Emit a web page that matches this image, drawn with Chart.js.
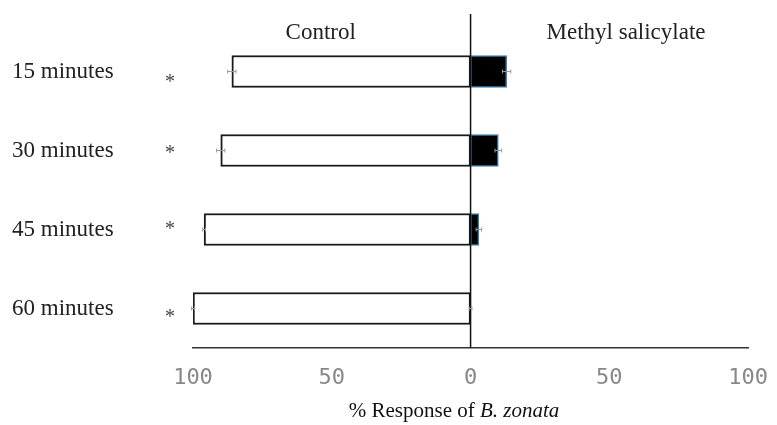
<!DOCTYPE html>
<html>
<head>
<meta charset="utf-8">
<script src="https://cdn.jsdelivr.net/npm/chart.js@4"></script>
<style>
  html, body { margin: 0; padding: 0; background: #fff; }
  #wrap { width: 777px; height: 425px; }
</style>
</head>
<body>
<div id="wrap"><canvas id="grafica"></canvas></div>
<script>
// datos
var categorias = ['15 minutes', '30 minutes', '45 minutes', '60 minutes'];
var control = [86, 90, 96, 100];
var controlErr = [1.5, 1.5, 0.5, 0.5];
var metilo = [13, 10, 3, 0];
var metiloErr = [1.5, 1.2, 1, 0.5];
var significancia = ['*', '*', '*', '*'];
var ticksX = [-100, -50, 0, 50, 100];

var serif = '"Liberation Serif", "Times New Roman", serif';
var desfaseAst = [8, 0, -3, 6]; // posicion vertical de los asteriscos

var extras = {
    id: 'extras',
    afterDatasetsDraw: function(chart){
        var ctx = chart.ctx;
        var x = chart.scales.x, y = chart.scales.y;
        var x0 = x.getPixelForValue(0);
        ctx.save();
        // linea del cero
        ctx.strokeStyle = '#111';
        ctx.lineWidth = 1.5;
        ctx.beginPath();
        ctx.moveTo(x0, 14);
        ctx.lineTo(x0, chart.chartArea.bottom);
        ctx.stroke();
        // barras de error
        ctx.strokeStyle = '#999';
        ctx.lineWidth = 1;
        categorias.forEach(function(c, i){
            var yc = y.getPixelForValue(i);
            [[-control[i], controlErr[i]], [metilo[i], metiloErr[i]]].forEach(function(p){
                var a = x.getPixelForValue(p[0] - p[1]);
                var b = x.getPixelForValue(p[0] + p[1]);
                ctx.beginPath();
                ctx.moveTo(a, yc); ctx.lineTo(b, yc);
                ctx.moveTo(a, yc - 2); ctx.lineTo(a, yc + 2);
                ctx.moveTo(b, yc - 2); ctx.lineTo(b, yc + 2);
                ctx.stroke();
            });
            // asterisco
            ctx.fillStyle = '#444';
            ctx.font = '20px ' + serif;
            ctx.textAlign = 'center';
            ctx.textBaseline = 'middle';
            ctx.fillText(significancia[i], 170, yc + desfaseAst[i] + 3);
        });
        // titulos de los lados
        ctx.fillStyle = '#222';
        ctx.font = '23px ' + serif;
        ctx.textAlign = 'center';
        ctx.textBaseline = 'middle';
        ctx.fillText('Control', x.getPixelForValue(-54), 33);
        ctx.fillText('Methyl salicylate', x.getPixelForValue(56), 33);
        // titulo del eje x
        var t1 = '% Response of ', t2 = 'B. zonata';
        ctx.font = '21px ' + serif;
        var w1 = ctx.measureText(t1).width;
        ctx.font = 'italic 21px ' + serif;
        var w2 = ctx.measureText(t2).width;
        var sx = 454 - (w1 + w2) / 2;
        ctx.textAlign = 'left';
        ctx.fillStyle = '#111';
        ctx.font = '21px ' + serif;
        ctx.fillText(t1, sx, 411);
        ctx.font = 'italic 21px ' + serif;
        ctx.fillText(t2, sx + w1, 411);
        ctx.restore();
    }
};

var ctx = document.getElementById('grafica').getContext('2d');
var chart = new Chart(ctx, {
    type: 'bar',
    data: {
        labels: categorias,
        datasets: [{
            label: 'Control',
            data: control.map(function(v){ return -v; }),
            backgroundColor: '#fff',
            borderColor: '#1a1a1a',
            borderWidth: 2,
            borderSkipped: false,
            barThickness: 32
        }, {
            label: 'Methyl salicylate',
            data: metilo,
            backgroundColor: '#000',
            borderColor: '#3a7fa8',
            borderWidth: 1.5,
            borderSkipped: false,
            barThickness: 32
        }]
    },
    options: {
        indexAxis: 'y',
        responsive: true,
        maintainAspectRatio: false,
        animation: false,
        layout: { padding: { top: 32, left: 12, right: 28, bottom: 0 } },
        plugins: { legend: { display: false }, tooltip: { enabled: false } },
        scales: {
            x: {
                stacked: true,
                min: -100, max: 100,
                afterBuildTicks: function(s){ s.ticks = ticksX.map(function(v){ return { value: v }; }); },
                afterFit: function(s){ s.height = 77; },
                grid: { display: false },
                border: { display: true, color: '#333', width: 1.5 },
                ticks: {
                    padding: 9,
                    color: '#888',
                    font: { family: '"DejaVu Sans Mono", monospace', size: 22 },
                    callback: function(v){ return Math.abs(v); }
                }
            },
            y: {
                stacked: true,
                afterFit: function(s){ s.width = 181; },
                grid: { display: false },
                border: { display: false },
                ticks: {
                    crossAlign: 'far',
                    color: '#222',
                    font: { family: serif, size: 23 }
                }
            }
        }
    },
    plugins: [extras]
});
</script>
</body>
</html>
